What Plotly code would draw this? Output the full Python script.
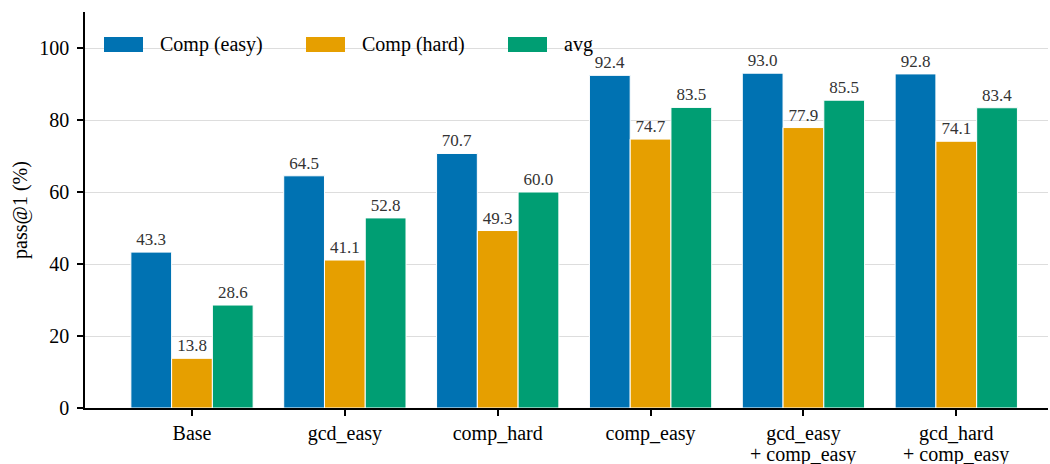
import plotly.graph_objects as go

# Training configurations and pass@1 scores
categories = ["Base", "gcd_easy", "comp_hard", "comp_easy",
              "gcd_easy\n+ comp_easy", "gcd_hard\n+ comp_easy"]
comp_easy = [43.3, 64.5, 70.7, 92.4, 93.0, 92.8]
comp_hard = [13.8, 41.1, 49.3, 74.7, 77.9, 74.1]
avg = [28.6, 52.8, 60.0, 83.5, 85.5, 83.4]

series_names = ["Comp (easy)", "Comp (hard)", "avg"]
series_values = [comp_easy, comp_hard, avg]
colors = ["#0072B2", "#E69F00", "#009E73"]

FONT = "Liberation Serif"
W, H = 1050, 464
ML, MR, MT, MB = 85, 2, 12, 56
PW, PH = W - ML - MR, H - MT - MB

xpos = list(range(len(categories)))

fig = go.Figure()
for name, vals, col in zip(series_names, series_values, colors):
    fig.add_trace(go.Bar(
        x=xpos, y=vals, name=name,
        marker=dict(color=col, line=dict(color="white", width=1)),
        text=[f"{v:.1f}" for v in vals], textposition="outside",
        textfont=dict(family=FONT, size=17, color="#333333"),
        cliponaxis=False, showlegend=False,
    ))

fig.update_layout(
    width=W, height=H,
    margin=dict(l=ML, r=MR, t=MT, b=MB),
    paper_bgcolor="white", plot_bgcolor="white",
    barmode="group", bargap=0.2, bargroupgap=0,
    font=dict(family=FONT, size=20, color="black"),
    uniformtext=dict(mode=False),
)
# First line of each category name is the tick label; continuation lines
# are placed underneath with a tighter line spacing.
fig.update_xaxes(
    tickmode="array", tickvals=xpos,
    ticktext=[c.split("\n")[0] for c in categories],
    range=[-0.7, 5.6], showline=True, linecolor="black", linewidth=1.5,
    ticks="outside", ticklen=6, tickwidth=1.5, tickcolor="black",
    showgrid=False, zeroline=False, tickfont=dict(size=20),
    automargin=False,
)
for xi, c in zip(xpos, categories):
    for k, line in enumerate(c.split("\n")[1:], start=1):
        fig.add_annotation(xref="x", yref="paper", x=xi, y=0,
                           yshift=-(24 + 22 * k), yanchor="middle",
                           text=line, showarrow=False,
                           font=dict(family=FONT, size=20, color="black"))

fig.update_yaxes(
    range=[0, 110], tickvals=[0, 20, 40, 60, 80, 100],
    showline=True, linecolor="black", linewidth=1.5,
    ticks="outside", ticklen=6, tickwidth=1.5, tickcolor="black",
    showgrid=True, gridcolor="#dddddd", gridwidth=1, zeroline=False,
    tickfont=dict(size=20), ticklabelstandoff=4,
    title=dict(text="pass@1 (%)", font=dict(size=20), standoff=6),
    automargin=False,
)

# Legend drawn as colored swatches with labels along the top of the plot
legend_x = [104, 306, 508]
for name, col, lx in zip(series_names, colors, legend_x):
    fig.add_shape(type="rect", xref="paper", yref="paper",
                  x0=(lx - ML) / PW, x1=(lx + 39 - ML) / PW,
                  y0=(H - MB - 52) / PH, y1=(H - MB - 37) / PH,
                  fillcolor=col, line=dict(width=0))
    fig.add_annotation(xref="paper", yref="paper",
                       x=(lx + 54 - ML) / PW, y=(H - MB - 44.5) / PH,
                       text=name, showarrow=False, xanchor="left", yanchor="middle",
                       font=dict(family=FONT, size=20, color="black"))

fig.write_html("out.html")
